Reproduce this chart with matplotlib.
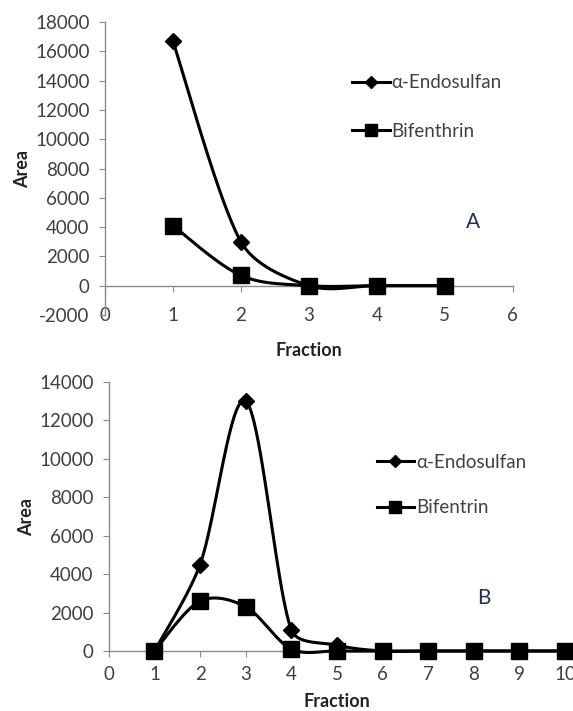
import numpy as np
import matplotlib
matplotlib.use("Agg")
import matplotlib.pyplot as plt

plt.rcParams['font.family'] = ['Lato', 'DejaVu Sans']
plt.rcParams['axes.unicode_minus'] = False

# Panel A data
fracA = [1, 2, 3, 4, 5]
endoA = [16700, 3000, 0, 0, 0]
bifA = [4100, 700, 0, 0, 0]
# Panel B data
fracB = [1, 2, 3, 4, 5, 6, 7, 8, 9, 10]
endoB = [0, 4500, 13000, 1100, 300, 0, 0, 0, 0, 0]
bifB = [0, 2600, 2300, 100, 0, 0, 0, 0, 0, 0]

namesA = ["\u03b1-Endosulfan", "Bifenthrin"]
namesB = ["\u03b1-Endosulfan", "Bifentrin"]

AXC = '#8a8a8a'
TXC = '#404040'
FS = 13.5


def smooth(ax, x, y, n=40):
    # Excel-like smoothed line, computed in display space
    pts = ax.transData.transform(np.column_stack([x, y]).astype(float))
    out = [pts[0]]
    for i in range(len(pts) - 1):
        p0 = pts[i - 1] if i > 0 else pts[i]
        p1 = pts[i]; p2 = pts[i + 1]
        p3 = pts[i + 2] if i + 2 < len(pts) else pts[i + 1]
        d1 = np.linalg.norm(p2 - p0); d2 = np.linalg.norm(p3 - p1)
        L = np.linalg.norm(p2 - p1)
        k1 = min(1 / 6.0, L / d1 / 3.0) if d1 > 0 else 0
        k2 = min(1 / 6.0, L / d2 / 3.0) if d2 > 0 else 0
        c1 = p1 + (p2 - p0) * k1
        c2 = p2 - (p3 - p1) * k2
        t = np.linspace(0, 1, n)[1:, None]
        seg = ((1 - t) ** 3) * p1 + 3 * ((1 - t) ** 2) * t * c1 + 3 * (1 - t) * t ** 2 * c2 + t ** 3 * p2
        out.extend(seg)
    out = ax.transData.inverted().transform(np.array(out))
    return out[:, 0], out[:, 1]


def style(ax, xmax, ymin, ymax, ystep, xpad, xlabpad):
    for s in ['top', 'right', 'bottom']:
        ax.spines[s].set_visible(False)
    ax.spines['left'].set_color(AXC)
    ax.spines['left'].set_linewidth(1.0)
    ax.set_xlim(0, xmax)
    ax.set_ylim(ymin, ymax)
    ax.set_yticks(np.arange(ymin, ymax + 1, ystep))
    ax.set_xticks(np.arange(0, xmax + 1, 1))
    ax.tick_params(axis='y', colors=TXC, labelsize=FS, length=4, color=AXC, pad=7)
    ax.tick_params(axis='x', colors=TXC, labelsize=FS, length=0, pad=xpad)
    loc = (0 - ymin) / (ymax - ymin)
    sec = ax.secondary_xaxis(loc)
    sec.set_xticks(np.arange(0, xmax + 1, 1))
    sec.tick_params(axis='x', length=4, color=AXC, labelbottom=False, labelsize=1)
    sec.spines['bottom'].set_color(AXC)
    sec.spines['bottom'].set_linewidth(1.0)
    ax.set_ylabel('Area', fontsize=13, fontweight='bold', color='#222222', labelpad=3)
    ax.set_xlabel('Fraction', fontsize=13, fontweight='bold', color='#222222', labelpad=xlabpad)


fig = plt.figure(figsize=(5.73, 7.11), dpi=100)

axA = fig.add_axes([0.183, 0.557, 0.712, 0.412])
style(axA, 6, -2000, 18000, 2000, xpad=-6, xlabpad=13)
axB = fig.add_axes([0.190, 0.0844, 0.796, 0.3783])
style(axB, 10, 0, 14000, 2000, xpad=11, xlabpad=7)

for ax, frac, series, names in [(axA, fracA, [endoA, bifA], namesA),
                                (axB, fracB, [endoB, bifB], namesB)]:
    for y, name, mk, ms in [(series[0], names[0], 'D', 8), (series[1], names[1], 's', 12)]:
        sx, sy = smooth(ax, frac, y)
        ax.plot(sx, sy, color='black', lw=2.2, zorder=3, clip_on=False)
        ax.plot(frac, y, linestyle='none', marker=mk, ms=ms, color='black', zorder=4, clip_on=False)
        ax.plot([], [], color='black', lw=2.2, marker=mk, ms=ms * 0.75, label=name)

axA.legend(loc='upper left', bbox_to_anchor=(0.565, 0.88), frameon=False,
           fontsize=FS, handlelength=2.0, handletextpad=0.1, labelspacing=1.7,
           labelcolor=TXC)
axA.text(5.41, 4360, 'A', fontsize=15, color='#1f2f5a', ha='center', va='center')

axB.legend(loc='upper left', bbox_to_anchor=(0.55, 0.795), frameon=False,
           fontsize=FS, handlelength=2.0, handletextpad=0.1, labelspacing=1.5,
           labelcolor=TXC)
axB.text(8.22, 2760, 'B', fontsize=15, color='#1f2f5a', ha='center', va='center')

fig.savefig('out.png', dpi=100)
